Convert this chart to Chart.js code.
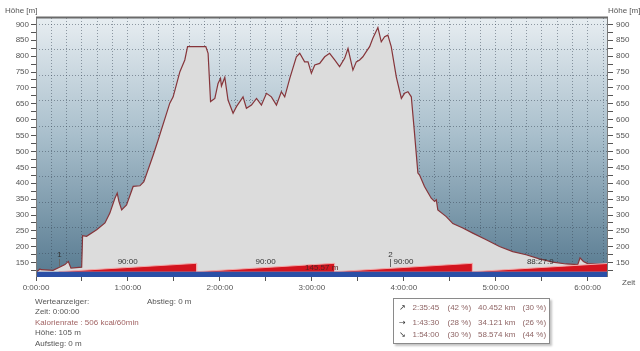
<!DOCTYPE html>
<html><head><meta charset="utf-8">
<script src="https://cdn.jsdelivr.net/npm/chart.js@4/dist/chart.umd.min.js"></script>
<style>
html,body{margin:0;padding:0;background:#fff;}
#wrap{position:relative;width:640px;height:351px;overflow:hidden;font-family:"Liberation Sans",Arial,sans-serif;}
#c{position:absolute;left:0;top:0;}
.t{position:absolute;font-size:8px;color:#555;white-space:nowrap;line-height:10px;}
#box{position:absolute;left:393px;top:298px;width:157px;height:46px;box-sizing:border-box;border:1px solid #8a8a8a;box-shadow:2px 2px 2px #c4c4c4;background:#fff;}
#box .t{color:#8f6565;}
#box .a{color:#333;font-family:"DejaVu Sans",sans-serif;font-size:8px;}
</style></head><body>
<div id="wrap">
<canvas id="c" width="640" height="351"></canvas>
<div class="t" style="left:35px;top:297px;">Werteanzeiger:</div>
<div class="t" style="left:147px;top:297px;">Abstieg: 0 m</div>
<div class="t" style="left:35px;top:307px;">Zeit: 0:00:00</div>
<div class="t" style="left:35px;top:318px;color:#a26464;">Kalorienrate : 506 kcal/60min</div>
<div class="t" style="left:35px;top:328px;">Höhe: 105 m</div>
<div class="t" style="left:35px;top:339px;">Aufstieg: 0 m</div>
<div id="box"></div>
</div>
<script>
// ---- data ----
const timeMin = [0, 2.6, 3.3, 11.1, 16.3, 18.9, 21.1, 22.8, 29.8, 30.4,
  33.0, 39.6, 45.0, 48.2, 51.5, 53.0, 54.1, 55.9, 59.1, 63.4,
  67.8, 70.4, 76.5, 79.7, 85.2, 87.3, 89.5, 93.9, 97.1, 98.9,
  110.8, 112.3, 113.9, 116.7, 118.8, 120.4, 121.0, 123.2, 125.3, 128.6,
  130.8, 135.1, 137.3, 140.6, 143.9, 147.1, 150.4, 153.6, 156.9, 160.1,
  162.3, 165.6, 169.9, 172.1, 175.3, 177.5, 179.7, 181.9, 185.1, 188.4,
  191.6, 194.9, 198.1, 201.4, 203.6, 206.8, 209.0, 211.2, 213.3, 215.5,
  217.7, 219.8, 223.1, 225.3, 227.5, 229.6, 231.8, 235.1, 238.4, 240.5,
  242.7, 244.9, 247.0, 249.2, 250.3, 253.5, 257.9, 260.1, 261.2, 262.2,
  267.7, 272.0, 278.5, 285.0, 293.8, 302.4, 311.1, 319.8, 328.5, 337.2,
  345.9, 353.5, 355.0, 357.2, 360.0, 372.0, 373.25];
const elevation = [120, 130, 128, 126, 138, 144, 154, 133, 136, 235,
  233, 254, 275, 306, 353, 369, 343, 316, 332, 390,
  392, 405, 489, 536, 620, 652, 672, 751, 788, 830,
  830, 809, 657, 667, 714, 730, 706, 733, 662, 620,
  641, 672, 636, 646, 667, 646, 683, 672, 646, 688,
  672, 730, 798, 809, 782, 782, 746, 772, 777, 798,
  809, 788, 767, 793, 824, 756, 782, 788, 798, 814,
  830, 856, 890, 845, 861, 866, 830, 735, 667, 683,
  688, 672, 557, 432, 426, 390, 353, 343, 348, 316,
  295, 273, 259, 243, 222, 201, 185, 175, 162, 152,
  146, 144, 165, 154, 147, 144, 143];
const totalMin = 373.25;
const xTickMin = [];            // every 10 min (grid), labels every hour
for (let v = 0; v <= 370; v += 10) xTickMin.push(v);
const yTickVals = [125,150,175,200,225,250,275,300,325,350,375,400,425,450,475,500,525,550,575,600,625,650,675,700,725,750,775,800,825,850,875,900];
const yGridVals = [900, 820, 740, 660, 580, 500, 420, 340, 260, 180];
const lapStart = 14.8;
const lapDurations = [90, 90, 90, 88.465];
const lapLabels = ['90:00', '90:00', '90:00', '88:27.9'];
const lapFull = 90;
const markerLabels = ['1', '2'];
const markerTimes = [15.0, 231.0];
const distText = '145.57 m';
const distTime = 186.4;
const sumArrows = ['↗', '→', '↘'];
const sumTimes = ['2:35:45', '1:43:30', '1:54:00'];
const sumTimePct = ['(42 %)', '(28 %)', '(30 %)'];
const sumDist = ['40.452 km', '34.121 km', '58.574 km'];
const sumDistPct = ['(30 %)', '(26 %)', '(44 %)'];

// ---- summary box ----
const box = document.getElementById('box');
const rowY = [4, 18.5, 31];
sumArrows.forEach((a, i) => {
  const cells = [[a, 5, 'a'], [sumTimes[i], 18.5, ''], [sumTimePct[i], 53.5, ''], [sumDist[i], 84, ''], [sumDistPct[i], 128.5, '']];
  cells.forEach(([txt, x, cls]) => {
    const d = document.createElement('div');
    d.className = 't ' + cls;
    d.style.left = x + 'px'; d.style.top = rowY[i] + 'px';
    d.textContent = txt;
    box.appendChild(d);
  });
});

// ---- derived series ----
const elevPts = timeMin.map((t, i) => ({x: t, y: elevation[i]}));
const lapPts = [];
let tt = lapStart;
lapDurations.forEach(d => { lapPts.push({x: tt, y: 0}); tt += d; lapPts.push({x: tt, y: d / lapFull}); });
lapPts.push({x: tt, y: 0});
const bandPts = [{x: 0, y: 0}, {x: totalMin, y: 0}];

const FONT = '"Liberation Sans", Arial, sans-serif';
Chart.defaults.font.family = FONT;
const fmt = v => Math.floor(v / 60) + ':' + String(Math.round(v % 60)).padStart(2, '0') + ':00';

const bgPlugin = {
  id: 'bg',
  beforeDraw(chart) {
    const {ctx, chartArea: a} = chart;
    const g = ctx.createLinearGradient(0, a.top, 0, a.bottom);
    g.addColorStop(0, '#e7edf1');
    g.addColorStop(0.45, '#a9bfcc');
    g.addColorStop(1, '#577a90');
    ctx.save(); ctx.fillStyle = g; ctx.fillRect(a.left, a.top, a.right - a.left, a.bottom - a.top); ctx.restore();
  }
};
const annoPlugin = {
  id: 'anno',
  afterDatasetsDraw(chart) {
    const {ctx, scales: {x}} = chart;
    ctx.save();
    ctx.font = '8px ' + FONT; ctx.textBaseline = 'middle'; ctx.textAlign = 'center';
    let s = lapStart;
    lapDurations.forEach((d, i) => {
      ctx.fillStyle = '#333';
      ctx.fillText(lapLabels[i], x.getPixelForValue(s + d / 2), 262);
      s += d;
    });
    ctx.fillStyle = '#5a2424';
    ctx.fillText(distText, x.getPixelForValue(distTime), 268);
    markerTimes.forEach((t, i) => {
      const px = Math.round(x.getPixelForValue(t)) + 0.5;
      ctx.fillStyle = '#333';
      ctx.fillText(markerLabels[i], px, 255);
      ctx.strokeStyle = '#666'; ctx.lineWidth = 1;
      ctx.beginPath(); ctx.moveTo(px, 259); ctx.lineTo(px, 267); ctx.stroke();
    });
    ctx.restore();
  },
  afterDraw(chart) {
    const {ctx, chartArea: a} = chart;
    ctx.save();
    ctx.strokeStyle = '#6a6a6a'; ctx.lineWidth = 2;
    ctx.beginPath(); ctx.moveTo(a.left, a.top - 0.5); ctx.lineTo(a.right, a.top - 0.5); ctx.stroke();
    ctx.lineWidth = 1; ctx.strokeStyle = '#7a7a7a';
    ctx.beginPath(); ctx.moveTo(a.left + 0.5, a.top); ctx.lineTo(a.left + 0.5, a.bottom); ctx.stroke();
    ctx.beginPath(); ctx.moveTo(a.right - 0.5, a.top); ctx.lineTo(a.right - 0.5, a.bottom); ctx.stroke();
    ctx.font = '8px ' + FONT; ctx.fillStyle = '#555'; ctx.textBaseline = 'middle'; ctx.textAlign = 'left';
    ctx.fillText('Höhe [m]', 5, 11);
    ctx.fillText('Höhe [m]', 608, 11);
    ctx.fillText('Zeit', 622, 283);
    ctx.restore();
  }
};

const tickFont = {size: 8, family: FONT};
new Chart(document.getElementById('c'), {
  type: 'line',
  data: {
    datasets: [
      {data: bandPts, yAxisID: 'lap', xAxisID: 'x', fill: 'start', backgroundColor: '#2b4fa6', borderColor: '#2b4fa6', borderWidth: 0, pointRadius: 0, order: 1},
      {data: lapPts, yAxisID: 'lap', xAxisID: 'x', fill: 'origin', backgroundColor: '#d3141f', borderColor: '#f2a8a8', borderWidth: 1, pointRadius: 0, tension: 0, order: 2},
      {data: elevPts, yAxisID: 'y', xAxisID: 'x', fill: 'start', backgroundColor: '#dcdcdc', borderColor: '#86353a', borderWidth: 1.2, pointRadius: 0, tension: 0, order: 3}
    ]
  },
  options: {
    responsive: false, animation: false, devicePixelRatio: 1,
    layout: {padding: {top: 18, left: 0, right: 0, bottom: 0}},
    plugins: {legend: {display: false}, tooltip: {enabled: false}},
    scales: {
      x: {
        type: 'linear', min: 0, max: totalMin,
        afterBuildTicks: s => { s.ticks = xTickMin.map(v => ({value: v})); },
        afterFit: s => { s.height = 74; },
        grid: {color: 'rgba(55,70,85,0.5)', lineWidth: 1, tickLength: 4, drawTicks: true,
          tickColor: c => (c.tick && c.tick.value % 30 === 0) ? '#555' : 'rgba(0,0,0,0)'},
        border: {display: false, dash: [1, 2]},
        ticks: {autoSkip: false, maxRotation: 0, padding: 2, color: '#555', font: tickFont,
          callback: v => (v % 60 === 0) ? fmt(v) : ''}
      },
      y: {
        position: 'left', min: 105, max: 920,
        afterBuildTicks: s => { s.ticks = yTickVals.map(v => ({value: v})); },
        afterFit: s => { s.width = 36; },
        grid: {drawOnChartArea: false, tickLength: 5, tickColor: '#555'},
        border: {display: false},
        ticks: {autoSkip: false, padding: 2, color: '#555', font: tickFont, callback: v => (v % 50 === 0) ? v : ''}
      },
      yGrid: {
        position: 'left', min: 105, max: 920,
        afterBuildTicks: s => { s.ticks = yGridVals.map(v => ({value: v})); },
        afterFit: s => { s.width = 0; },
        grid: {color: 'rgba(55,70,85,0.5)', drawTicks: false},
        border: {display: false, dash: [1, 2]},
        ticks: {display: false}
      },
      y1: {
        position: 'right', min: 105, max: 920,
        afterBuildTicks: s => { s.ticks = yTickVals.map(v => ({value: v})); },
        afterFit: s => { s.width = 32; },
        grid: {drawOnChartArea: false, tickLength: 5, tickColor: '#555'},
        border: {display: false},
        ticks: {autoSkip: false, padding: 3, color: '#555', font: tickFont, callback: v => (v % 50 === 0) ? v : ''}
      },
      lap: {display: false, min: -0.631, max: 30.2}
    }
  },
  plugins: [bgPlugin, annoPlugin]
});
</script>
</body></html>
